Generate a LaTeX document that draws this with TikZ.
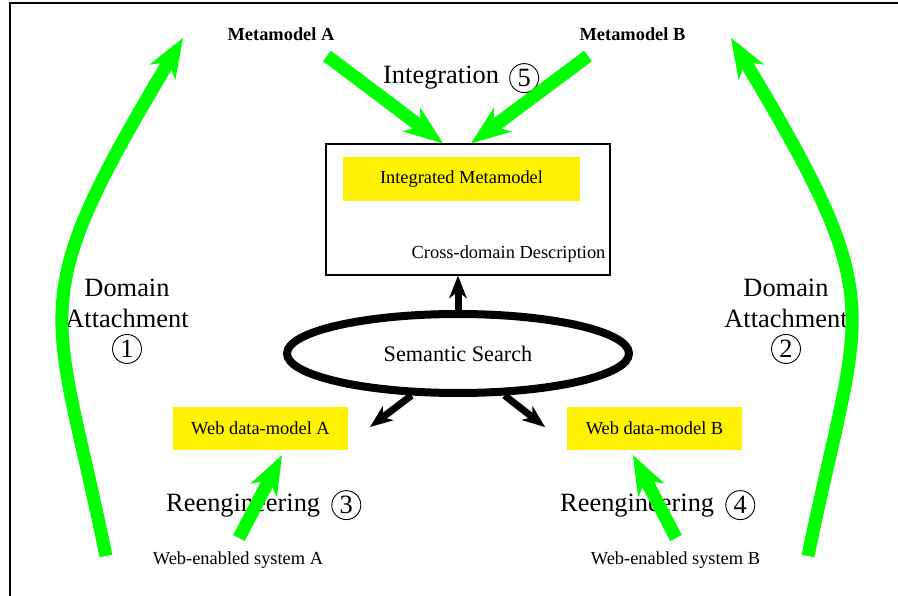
\documentclass[tikz,border=0pt]{standalone}
\usepackage{fontspec}
\setmainfont{Liberation Serif}
\usepackage{tikz}
\usetikzlibrary{shapes, arrows.meta, positioning}

\newcommand{\largetext}{\fontsize{26.4pt}{31pt}\selectfont}
\newcommand{\midtext}{\fontsize{22.2pt}{26pt}\selectfont}
\newcommand{\smalltext}{\fontsize{18.4pt}{22pt}\selectfont}
\newcommand{\metatext}{\fontsize{18.4pt}{22pt}\selectfont\bfseries}

\tikzset{
  greenarrow/.style={line width=13pt, green,
    -{Stealth[length=40pt, width=30pt, inset=12pt, line width=0pt]}},
  blackarrow/.style={line width=7pt,
    -{Stealth[length=23pt, width=18pt, inset=7pt, line width=0pt]}},
  yellowbox/.style={fill=yellow, minimum width=175pt, minimum height=43pt, font=\smalltext},
  numcircle/.style={draw, circle, line width=0.9pt, minimum size=29pt, inner sep=0pt, font=\largetext}
}

\begin{document}
\begin{tikzpicture}[x=1pt, y=-1pt]
  \useasboundingbox (0,0) rectangle (898,596);
  % Frame
  \draw[line width=2pt] (10,596) -- (10,3) -- (898,3);
  % Metamodels
  \node[font=\metatext, anchor=base] (metaA) at (281,41) {Metamodel A};
  \node[font=\metatext, anchor=base] (metaB) at (632.5,41) {Metamodel B};
  % Integration step
  \node[font=\largetext,
  anchor=base west,
  inner sep=0pt] (integ) at (383,84) {Integration};
  \node[numcircle, right=10pt of integ] (n5) {5};
  % Cross-domain description block
  \node[draw,
  line width=1.2pt,
  minimum width=284pt,
  minimum height=131pt] (desc) at (468,209.5) {};
  \node[yellowbox,
  minimum width=237pt,
  minimum height=44pt] (integmm) at (461.5,179) {Integrated Metamodel};
  \node[font=\smalltext,
  anchor=base east,
  inner sep=0pt] (cross) at ([xshift=-5pt, yshift=17pt]desc.south east) {Cross-domain Description};
  % Semantic search
  \node[draw,
  ellipse,
  line width=8pt,
  minimum width=342pt,
  minimum height=79pt,
  font=\midtext] (search) at (458,353.5) {Semantic Search};
  % Domain attachment labels
  \node[font=\largetext, align=center, inner sep=0pt, anchor=south] (domA) at (127,328) {Domain\\Attachment};
  \node[numcircle, below=6pt of domA] (n1) {1};
  \node[font=\largetext, align=center, inner sep=0pt, anchor=south] (domB) at (786,328) {Domain\\Attachment};
  \node[numcircle, below=6pt of domB] (n2) {2};
  % Web data models
  \node[yellowbox] (wdmA) at (260.5,428.5) {Web data-model A};
  \node[yellowbox] (wdmB) at (654.5,428.5) {Web data-model B};
  % Reengineering steps
  \node[font=\largetext, anchor=base west, inner sep=0pt] (reA) at (166,511) {Reengineering};
  \node[numcircle, right=11pt of reA] (n3) {3};
  \node[font=\largetext, anchor=base west, inner sep=0pt] (reB) at (560,511) {Reengineering};
  \node[numcircle, right=11pt of reB] (n4) {4};
  % Web-enabled systems
  \node[font=\smalltext, anchor=base] (wesA) at (238,564) {Web-enabled system A};
  \node[font=\smalltext, anchor=base] (wesB) at (675.5,564) {Web-enabled system B};
  % Arrow ends
  \coordinate (mmA) at (327,56);
  \coordinate (mmB) at (588,56);
  \coordinate (sysA) at (239,538);
  \coordinate (sysB) at (676,538);
  \coordinate (attA) at (106,556);
  \coordinate (attB) at (808,556);
  \coordinate (bendA) at (159.9,76.6);
  \coordinate (bendB) at (754.1,76.6);
  \coordinate (topA) at (183,38);
  \coordinate (topB) at (731,38);
  \coordinate (tipA) at (370,427);
  \coordinate (tipB) at (545,427);
  % Black arrows
  \draw[blackarrow] (search.north) -- (search.north |- desc.south);
  \draw[blackarrow] (search.222) -- (tipA);
  \draw[blackarrow] (search.318) -- (tipB);
  % Green arrows
  \draw[greenarrow] (mmA) -- ([xshift=-25pt]desc.north);
  \draw[greenarrow] (mmB) -- ([xshift=3pt]desc.north);
  \draw[greenarrow] (sysA) -- ([xshift=21.5pt, yshift=-5pt]wdmA.south);
  \draw[greenarrow] (sysB) -- ([xshift=-21.5pt, yshift=-5pt]wdmB.south);
  \draw[greenarrow] (attA) .. controls (54.7,306.2) and (22.4,308.1) .. (bendA) -- (topA);
  \draw[greenarrow] (attB) .. controls (859.3,306.2) and (891.6,308.1) .. (bendB) -- (topB);
\end{tikzpicture}
\end{document}
